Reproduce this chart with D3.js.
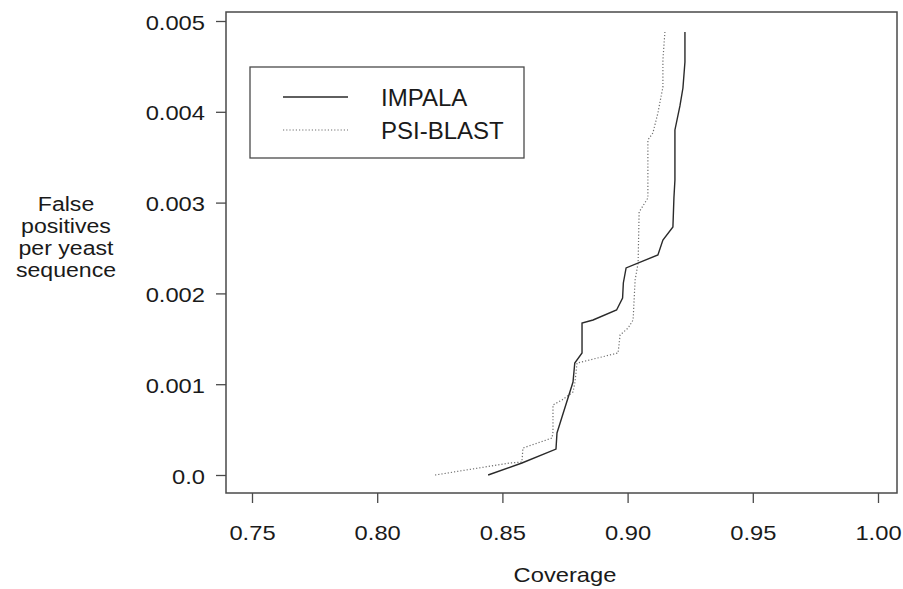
<!DOCTYPE html>
<html>
<head>
<meta charset="utf-8">
<script src="https://cdn.jsdelivr.net/npm/d3@7"></script>
<style>
  html, body { margin: 0; padding: 0; background: #fff; }
  svg { display: block; font-family: "Liberation Sans", Arial, Helvetica, sans-serif; }
</style>
</head>
<body>
<div id="chart"></div>
<script>
// Coverage vs false positives per yeast sequence
const impalaCoverage = [0.8443, 0.8578, 0.8714, 0.8718, 0.8738, 0.8782, 0.8789, 0.8818, 0.8818, 0.8862,
    0.8956, 0.8980, 0.8983, 0.8994, 0.9121, 0.9141, 0.9181, 0.9185, 0.9189, 0.9189, 0.9209, 0.9221, 0.9229, 0.9229];
const impalaFP = [0.0, 0.000132, 0.000286, 0.000463, 0.000639, 0.001024, 0.001233, 0.001344, 0.001674, 0.001707,
    0.001817, 0.001949, 0.002115, 0.00228, 0.002423, 0.002588, 0.002731, 0.003051, 0.003249, 0.0038, 0.004064, 0.004262, 0.004548, 0.004879];

const psiCoverage = [0.8231, 0.8530, 0.8578, 0.8582, 0.8698, 0.8702, 0.8702, 0.8738, 0.8782, 0.8790, 0.8798,
    0.8962, 0.8970, 0.9002, 0.9022, 0.9030, 0.9042, 0.9046, 0.9081, 0.9081, 0.9101, 0.9121, 0.9141, 0.9141, 0.9149];
const psiFP = [0.0, 0.000132, 0.000143, 0.000297, 0.000407, 0.000474, 0.000771, 0.000826, 0.000914, 0.001024, 0.001233,
    0.001344, 0.001542, 0.001619, 0.001707, 0.002148, 0.002335, 0.002896, 0.003051, 0.003689, 0.003767, 0.003987, 0.004273, 0.00457, 0.004879];

const xTicks = [0.75, 0.80, 0.85, 0.90, 0.95, 1.00];
const yTicks = [0, 0.001, 0.002, 0.003, 0.004, 0.005];
const xTickLabels = ['0.75', '0.80', '0.85', '0.90', '0.95', '1.00'];
const yTickLabels = ['0.0', '0.001', '0.002', '0.003', '0.004', '0.005'];

const seriesNames = ['IMPALA', 'PSI-BLAST'];

const W = 903, H = 589;
const box = { left: 226, right: 897, top: 12, bottom: 493 };
const ink = '#1a1a1a';
const frame = '#4a4a4a';
const stretch = 'scale(1.13,1)';

const x = d3.scaleLinear().domain([0.75, 1.0]).range([252, 878]);
const y = d3.scaleLinear().domain([0, 0.005]).range([475, 21]);

const svg = d3.select('#chart').append('svg')
    .attr('width', W)
    .attr('height', H);

// plot frame
svg.append('rect')
    .attr('x', box.left).attr('y', box.top)
    .attr('width', box.right - box.left).attr('height', box.bottom - box.top)
    .attr('fill', 'none')
    .attr('stroke', frame)
    .attr('stroke-width', 1.5);

// Axes
const xAxis = svg.append('g')
    .attr('transform', `translate(0,${box.bottom})`)
    .call(d3.axisBottom(x).tickValues(xTicks).tickFormat((d, i) => xTickLabels[i]).tickSize(10).tickSizeOuter(0));
xAxis.select('.domain').remove();
xAxis.selectAll('line').attr('stroke', frame).attr('stroke-width', 1.3);
xAxis.selectAll('text')
    .attr('y', 0).attr('dy', null)
    .attr('transform', `translate(0,47) ${stretch}`)
    .style('font-size', '21px')
    .style('fill', ink);

const yAxis = svg.append('g')
    .attr('transform', `translate(${box.left},0)`)
    .call(d3.axisLeft(y).tickValues(yTicks).tickFormat((d, i) => yTickLabels[i]).tickSize(10).tickSizeOuter(0));
yAxis.select('.domain').remove();
yAxis.selectAll('line').attr('stroke', frame).attr('stroke-width', 1.3);
yAxis.selectAll('text')
    .attr('x', 0).attr('dy', null)
    .attr('transform', `translate(-21,8) ${stretch}`)
    .style('font-size', '21px')
    .style('fill', ink);

// Axis titles
svg.append('text')
    .attr('transform', `translate(${x(0.875)},582) ${stretch}`)
    .attr('text-anchor', 'middle')
    .style('font-size', '21px')
    .style('fill', ink)
    .text('Coverage');

const yTitle = svg.append('text')
    .attr('text-anchor', 'middle')
    .style('font-size', '21px')
    .style('fill', ink);
['False', 'positives', 'per yeast', 'sequence'].forEach((t, i) => {
    yTitle.append('tspan')
        .attr('x', 0)
        .attr('y', 0)
        .attr('dy', i * 22)
        .text(t);
});
yTitle.attr('transform', `translate(66,211) scale(1.1,1)`);

// Lines
const line = d3.line()
    .x(d => x(d[0]))
    .y(d => y(d[1]));

const impala = impalaCoverage.map((c, i) => [c, impalaFP[i]]);
const psi = psiCoverage.map((c, i) => [c, psiFP[i]]);

svg.append('path')
    .datum(psi)
    .attr('fill', 'none')
    .attr('stroke', '#6e6e6e')
    .attr('stroke-width', 1.2)
    .attr('stroke-dasharray', '1.2,2')
    .attr('d', line);

svg.append('path')
    .datum(impala)
    .attr('fill', 'none')
    .attr('stroke', '#2a2a2a')
    .attr('stroke-width', 1.4)
    .attr('d', line);

// Legend
const legend = svg.append('g');
legend.append('rect')
    .attr('x', 250).attr('y', 67)
    .attr('width', 274).attr('height', 91)
    .attr('fill', '#fff')
    .attr('stroke', frame)
    .attr('stroke-width', 1.3);

seriesNames.forEach((name, i) => {
    const ly = 97 + i * 33;
    legend.append('line')
        .attr('x1', 283).attr('x2', 348)
        .attr('y1', ly).attr('y2', ly)
        .attr('stroke', i === 0 ? '#2a2a2a' : '#6e6e6e')
        .attr('stroke-width', i === 0 ? 1.4 : 1.2)
        .attr('stroke-dasharray', i === 0 ? null : '1.2,2');
    legend.append('text')
        .attr('x', 381).attr('y', ly + 9)
        .style('font-size', '24px')
        .style('fill', ink)
        .text(name);
});
</script>
</body>
</html>
